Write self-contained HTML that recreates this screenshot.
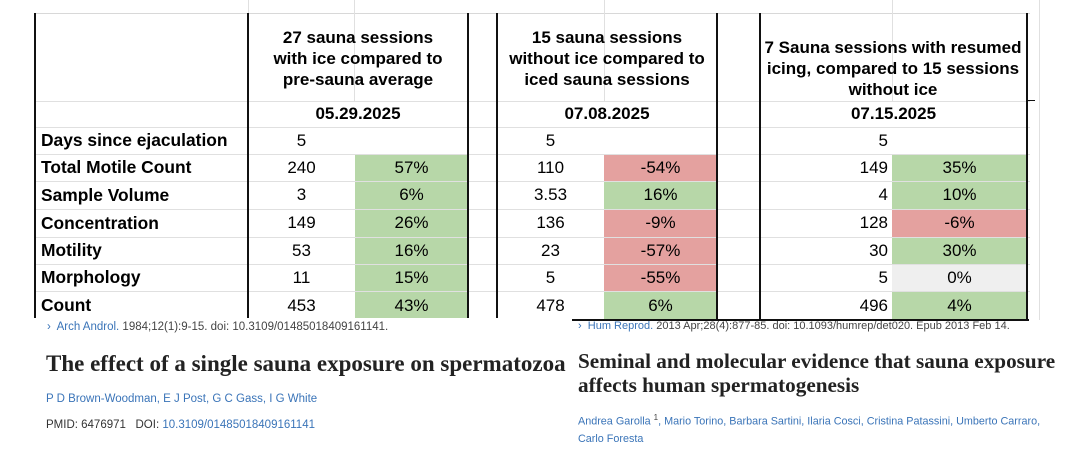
<!DOCTYPE html>
<html><head><meta charset="utf-8"><style>
body{margin:0;width:1074px;height:462px;background:#fff;position:relative;overflow:hidden;font-family:"Liberation Sans",Arial,sans-serif;color:#000}
.a{position:absolute}
.c{position:absolute;display:flex;align-items:center;justify-content:center;font-size:17px;box-sizing:border-box}
.r{justify-content:flex-end;padding-right:4px}
.l{justify-content:flex-start;padding-left:6px;font-weight:bold;font-size:17.4px}
.g{background:#b7d7a8}.rd{background:#e4a19f}.gy{background:#efefef}
.h{position:absolute;text-align:center;font-weight:bold;font-size:17px;line-height:21px}
.hl{position:absolute;height:1px;background:#e0e0e0}
.vk{position:absolute;width:2px;background:#111;top:13px;height:306px}
.vl{position:absolute;width:1px;background:#e0e0e0}
.ser{font-family:"Liberation Serif",serif;font-weight:bold;color:#222}
.bl{color:#3a74b8}
</style></head><body>
<div class="hl" style="left:35px;top:13px;width:995px;background:#d8d8d8"></div>
<div class="vl" style="left:248px;top:0;height:13px"></div>
<div class="vl" style="left:354px;top:0;height:13px"></div>
<div class="vl" style="left:604px;top:0;height:13px"></div>
<div class="vl" style="left:892px;top:0;height:13px"></div>

<div id="cells"></div>
<div class="hl" style="left:35px;top:101px;width:995px"></div>
<div class="hl" style="left:35px;top:127px;width:995px"></div>
<div class="hl" style="left:35px;top:154px;width:995px"></div>
<div class="hl" style="left:35px;top:181px;width:995px"></div>
<div class="hl" style="left:35px;top:209px;width:995px"></div>
<div class="hl" style="left:35px;top:237px;width:995px"></div>
<div class="hl" style="left:35px;top:264px;width:995px"></div>
<div class="hl" style="left:35px;top:291px;width:995px"></div>
<div class="vl" style="left:354px;top:13px;height:88px"></div>
<div class="vl" style="left:604px;top:13px;height:88px"></div>
<div class="vl" style="left:892px;top:13px;height:88px"></div>
<div class="vl" style="left:1039px;top:0px;height:320px"></div>

<div class="c l" style="left:35px;top:127px;width:213px;height:27px">Days since ejaculation</div>
<div class="c l" style="left:35px;top:154px;width:213px;height:27px">Total Motile Count</div>
<div class="c l" style="left:35px;top:181px;width:213px;height:28px">Sample Volume</div>
<div class="c l" style="left:35px;top:209px;width:213px;height:28px">Concentration</div>
<div class="c l" style="left:35px;top:237px;width:213px;height:27px">Motility</div>
<div class="c l" style="left:35px;top:264px;width:213px;height:27px">Morphology</div>
<div class="c l" style="left:35px;top:291px;width:213px;height:29px">Count</div>

<div class="h" style="left:248px;top:27px;width:220px">27 sauna sessions<br>with ice compared to<br>pre-sauna average</div>
<div class="h" style="left:492px;top:27px;width:230px">15 sauna sessions<br>without ice compared to<br>iced sauna sessions</div>
<div class="h" style="left:740px;top:37px;width:306px;overflow:hidden;clip-path:inset(0 18px 0 21px)">7 Sauna sessions with resumed<br>icing, compared to 15 sessions<br>without ice</div>
<div class="c" style="left:248px;top:101px;width:220px;height:26px;font-weight:bold;font-size:17px">05.29.2025</div>
<div class="c" style="left:497px;top:101px;width:220px;height:26px;font-weight:bold;font-size:17px">07.08.2025</div>
<div class="c" style="left:760px;top:101px;width:267px;height:26px;font-weight:bold;font-size:17px">07.15.2025</div>

<script>
var rows=[[127,27],[154,27],[181,28],[209,28],[237,27],[264,27],[291,29]];
var s1=[["5",""],["240","57%"],["3","6%"],["149","26%"],["53","16%"],["11","15%"],["453","43%"]];
var c1=["","g","g","g","g","g","g"];
var s2=[["5",""],["110","-54%"],["3.53","16%"],["136","-9%"],["23","-57%"],["5","-55%"],["478","6%"]];
var c2=["","rd","g","rd","rd","rd","g"];
var s3=[["5",""],["149","35%"],["4","10%"],["128","-6%"],["30","30%"],["5","0%"],["496","4%"]];
var c3=["","g","g","rd","g","gy","g"];
var h="";
function sec(d,c,vx,vw,px,pw,right){
 for(var i=0;i<7;i++){var y=rows[i][0],hh=rows[i][1];
  h+='<div class="c'+(right?' r':'')+'" style="left:'+vx+'px;top:'+y+'px;width:'+vw+'px;height:'+hh+'px">'+d[i][0]+'</div>';
  h+='<div class="c '+c[i]+'" style="left:'+px+'px;top:'+y+'px;width:'+pw+'px;height:'+hh+'px">'+d[i][1]+'</div>';}
}
sec(s1,c1,248,107,355,113,false);
sec(s2,c2,497,107,604,113,false);
sec(s3,c3,760,132,892,135,true);
document.getElementById("cells").innerHTML=h;
</script>

<div class="vk" style="left:34px;width:2px;height:305px"></div>
<div class="vk" style="left:247px"></div>
<div class="vk" style="left:467px"></div>
<div class="vk" style="left:496px"></div>
<div class="vk" style="left:716px"></div>
<div class="vk" style="left:759px"></div>
<div class="vk" style="left:1026px"></div>
<div class="a" style="left:572px;top:319px;width:457px;height:2px;background:#111"></div>
<div class="a" style="left:1027px;top:100px;width:8px;height:1px;background:#111"></div>
<div class="a" style="left:0;top:318px;width:572px;height:14px;background:#fff"></div>

<div class="a" style="left:47px;top:321px;font-size:11.5px;color:#444;white-space:nowrap"><span class="bl">›&nbsp; Arch Androl.</span> 1984;12(1):9-15. doi: 10.3109/01485018409161141.</div>
<div class="a ser" style="left:46px;top:351px;font-size:23px;white-space:nowrap">The effect of a single sauna exposure on spermatozoa</div>
<div class="a bl" style="left:46px;top:393px;font-size:11.5px;white-space:nowrap">P D Brown-Woodman, E J Post, G C Gass, I G White</div>
<div class="a" style="left:46px;top:419px;font-size:11.5px;color:#333;white-space:nowrap">PMID: 6476971&nbsp;&nbsp; DOI: <span class="bl">10.3109/01485018409161141</span></div>

<div class="a" style="left:578px;top:320px;font-size:11px;color:#444;white-space:nowrap"><span class="bl">›&nbsp; Hum Reprod.</span> 2013 Apr;28(4):877-85. doi: 10.1093/humrep/det020. Epub 2013 Feb 14.</div>
<div class="a ser" style="left:578px;top:349px;font-size:21.2px;line-height:24px;white-space:nowrap">Seminal and molecular evidence that sauna exposure<br>affects human spermatogenesis</div>
<div class="a bl" style="left:578px;top:409px;font-size:10.8px;line-height:17px;white-space:nowrap">Andrea Garolla <sup style="font-size:8px;color:#444">1</sup>, Mario Torino, Barbara Sartini, Ilaria Cosci, Cristina Patassini, Umberto Carraro,<br>Carlo Foresta</div>
</body></html>
